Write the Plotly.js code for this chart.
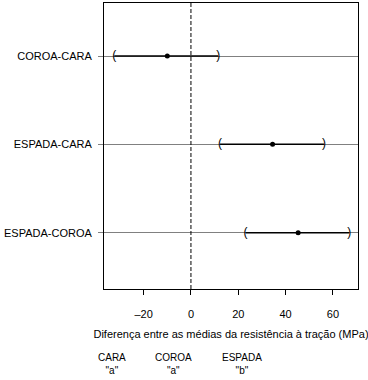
<!DOCTYPE html>
<html>
<head>
<meta charset="utf-8">
<script src="https://cdn.plot.ly/plotly-3.0.1.min.js"></script>
<style>html,body{margin:0;padding:0;background:#fff;}#chart{width:368px;height:380px;}</style>
</head>
<body>
<div id="chart"></div>
<script>
var comparisons = ["COROA-CARA", "ESPADA-CARA", "ESPADA-COROA"];
var diffs = [-10.0, 34.5, 45.3];
var lower = [-32.4, 12.3, 23.1];
var upper = [11.5, 56.2, 66.9];
var xTicks = [-20, 0, 20, 40, 60];
var groups = ["CARA", "COROA", "ESPADA"];
var groupLetters = ['"a"', '"a"', '"b"'];
var xTitle = "Diferença entre as médias da resistência à tração (MPa)";

var n = comparisons.length;
var ypos = comparisons.map(function (c, i) { return n - i; });
var FONT = "Liberation Sans, Arial, sans-serif";

var traces = [];
comparisons.forEach(function (c, i) {
  traces.push({
    x: [lower[i], upper[i]], y: [ypos[i], ypos[i]],
    mode: "lines", line: {color: "#000", width: 1.5},
    hoverinfo: "skip", showlegend: false
  });
});
traces.push({
  x: lower, y: ypos, mode: "text", text: lower.map(function () { return "("; }),
  textposition: "middle center", textfont: {family: FONT, size: 12, color: "#000"},
  showlegend: false, hoverinfo: "skip"
});
traces.push({
  x: upper, y: ypos, mode: "text", text: upper.map(function () { return ")"; }),
  textposition: "middle center", textfont: {family: FONT, size: 12, color: "#000"},
  showlegend: false, hoverinfo: "skip"
});
traces.push({
  x: diffs, y: ypos, mode: "markers",
  marker: {color: "#000", size: 5, symbol: "circle"},
  showlegend: false
});

var plotL = 104, plotR = 358, plotT = 3, plotB = 289.5;
var pw = plotR - plotL, ph = plotB - plotT;
function px2paperX(p) { return (p - plotL) / pw; }
function px2paperY(p) { return (plotB - p) / ph; }

var groupX = [112, 173.5, 241.5];
var annotations = groups.map(function (g, i) {
  return {
    xref: "paper", yref: "paper", x: px2paperX(groupX[i]), y: px2paperY(364.5),
    text: g + "<br>" + groupLetters[i], showarrow: false, xanchor: "center", yanchor: "middle",
    align: "center", font: {family: FONT, size: 10, color: "#000"}
  };
});

var layout = {
  width: 368, height: 380,
  margin: {l: plotL, r: 368 - plotR, t: plotT, b: 380 - plotB, pad: 0},
  paper_bgcolor: "#fff", plot_bgcolor: "#fff",
  showlegend: false,
  font: {family: FONT, size: 11, color: "#000"},
  xaxis: {
    range: [-36.75, 70.6], tickvals: xTicks, ticktext: xTicks.map(function (v) { return v < 0 ? "\u2013" + Math.abs(v) : String(v); }),
    ticks: "outside", ticklen: 5, tickwidth: 1, tickcolor: "#000",
    showline: true, linecolor: "#000", linewidth: 1, mirror: true,
    showgrid: false, zeroline: false, ticklabelstandoff: 10,
    tickfont: {family: FONT, size: 11, color: "#000"},
    title: {text: xTitle, font: {family: FONT, size: 11, color: "#000"}, standoff: 11}
  },
  yaxis: {
    range: [0.363, 3.6], tickvals: ypos, ticktext: comparisons,
    ticks: "outside", ticklen: 5, tickwidth: 1, tickcolor: "#808080",
    showline: true, linecolor: "#000", linewidth: 1, mirror: true,
    showgrid: true, gridcolor: "#808080", gridwidth: 1, zeroline: false,
    ticklabelstandoff: 4,
    tickfont: {family: FONT, size: 11, color: "#000"}
  },
  shapes: [{
    type: "line", xref: "x", yref: "paper", x0: 0, x1: 0, y0: 0, y1: 1,
    line: {color: "#000", width: 1, dash: "4px,2px"}
  }],
  annotations: annotations
};

Plotly.newPlot("chart", traces, layout, {displayModeBar: false, staticPlot: true});
</script>
</body>
</html>
